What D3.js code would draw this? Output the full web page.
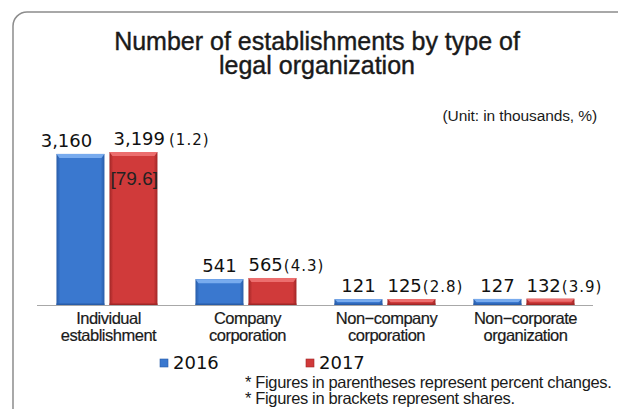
<!DOCTYPE html>
<html>
<head>
<meta charset="utf-8">
<script src="https://cdn.jsdelivr.net/npm/d3@7"></script>
<style>
  body { margin: 0; background: #fff; }
  svg { display: block; }
</style>
</head>
<body>
<svg id="chart" width="618" height="409"></svg>
<script>
const categories = [
  ["Individual", "establishment"],
  ["Company", "corporation"],
  ["Non\u2212company", "corporation"],
  ["Non\u2212corporate", "organization"]
];
const years = ["2016", "2017"];
const values2016 = [3160, 541, 121, 127];
const values2017 = [3199, 565, 125, 132];
const changes = ["(1.2)", "(4.3)", "(2.8)", "(3.9)"];
const shares = ["[79.6]", null, null, null];
const notes = [
  "* Figures in parentheses represent percent changes.",
  "* Figures in brackets represent shares."
];

const svg = d3.select("#chart");
const keys = categories.map((d, i) => i);

// frame
svg.append("rect")
  .attr("x", 13).attr("y", 12)
  .attr("width", 640).attr("height", 420)
  .attr("rx", 14)
  .attr("fill", "none")
  .attr("stroke", "#8c8c8c")
  .attr("stroke-width", 1.5);

// title
svg.append("text")
  .attr("x", 317).attr("y", 50)
  .attr("text-anchor", "middle")
  .style("font", "25px 'Liberation Sans', Arial, sans-serif")
  .attr("fill", "#1a1a1a")
  .attr("stroke", "#1a1a1a")
  .attr("stroke-width", 0.4)
  .selectAll("tspan")
  .data(["Number of establishments by type of", "legal organization"])
  .join("tspan")
  .attr("x", 317)
  .attr("dy", (d, i) => i ? 24 : 0)
  .text(d => d);

svg.append("text")
  .attr("x", 597).attr("y", 121)
  .attr("text-anchor", "end")
  .style("font", "15.5px 'Liberation Sans', Arial, sans-serif")
  .attr("letter-spacing", -0.1)
  .attr("fill", "#1a1a1a")
  .text("(Unit: in thousands, %)");

// scales
const x0 = d3.scaleBand().domain(keys).range([37, 593]).paddingInner(0.28).paddingOuter(0.14);
const x1 = d3.scaleBand().domain(years).range([0, 101]).paddingInner(5 / 53);
const y = d3.scaleLinear().domain([0, 3200]).range([305, 152]);

// gradients
const defs = svg.append("defs");
const palette = {
  "2016": { mid: "#3a78cf", dark: "#285ca8", light: "#78abee" },
  "2017": { mid: "#d03a3a", dark: "#a02626", light: "#ec6e6e" }
};
years.forEach(k => {
  const g = defs.append("linearGradient").attr("id", "g" + k).attr("x1", 0).attr("x2", 1);
  g.append("stop").attr("offset", 0).attr("stop-color", palette[k].dark);
  g.append("stop").attr("offset", 0.08).attr("stop-color", palette[k].mid);
  g.append("stop").attr("offset", 0.92).attr("stop-color", palette[k].mid);
  g.append("stop").attr("offset", 1).attr("stop-color", palette[k].dark);
});

const rows = keys.map(i => ({ i, "2016": values2016[i], "2017": values2017[i] }));

const group = svg.append("g").selectAll("g")
  .data(rows)
  .join("g")
  .attr("transform", d => `translate(${x0(d.i)},0)`);

const bars = group.selectAll("g.bar")
  .data(d => years.map(k => ({ k, v: d[k], i: d.i })))
  .join("g")
  .attr("class", "bar");

bars.append("rect")
  .attr("x", d => x1(d.k))
  .attr("y", d => y(d.v))
  .attr("width", x1.bandwidth())
  .attr("height", d => y(0) - y(d.v))
  .attr("fill", d => `url(#g${d.k})`);

// bevel highlight on top
bars.append("path")
  .attr("d", d => {
    const bx = x1(d.k), by = y(d.v), w = x1.bandwidth();
    const h = Math.min(4, (y(0) - y(d.v)) / 2);
    return `M${bx},${by}H${bx + w}L${bx + w - 3},${by + h}H${bx + 3}Z`;
  })
  .attr("fill", d => palette[d.k].light);

// bottom shade
bars.append("rect")
  .attr("x", d => x1(d.k))
  .attr("y", y(0) - 1.5)
  .attr("width", x1.bandwidth())
  .attr("height", 1.5)
  .attr("fill", d => palette[d.k].dark);

// axis
svg.append("line")
  .attr("x1", 37).attr("x2", 593)
  .attr("y1", 305.5).attr("y2", 305.5)
  .attr("stroke", "#a8a8a8")
  .attr("stroke-width", 1);

// value labels
const valFont = "18px 'DejaVu Sans', sans-serif";
group.append("text")
  .attr("x", d => x1("2016") + x1.bandwidth() / 2 + (d.i === 0 ? -14 : 0))
  .attr("y", d => y(d["2016"]) - 7)
  .attr("text-anchor", "middle")
  .style("font", valFont)
  .attr("fill", "#111")
  .text(d => d3.format(",")(d["2016"]));

const red = group.append("text")
  .attr("x", d => x1("2017") + (d.i === 0 ? 4 : 0))
  .attr("y", d => y(d["2017"]) - 7)
  .style("font", valFont)
  .attr("fill", "#111");
red.append("tspan").text(d => d3.format(",")(d["2017"]));
red.append("tspan")
  .attr("dx", d => d.i === 0 ? 4 : 1)
  .style("font-size", "15px")
  .attr("letter-spacing", 1)
  .text(d => changes[d.i]);

group.filter(d => shares[d.i])
  .append("text")
  .attr("x", x1("2017") + 1)
  .attr("y", 185)
  .style("font", "19px 'Liberation Sans', Arial, sans-serif")
  .attr("fill", "#222")
  .text(d => shares[d.i]);

// category labels, one text per line
group.each(function (d) {
  d3.select(this).selectAll("text.cat")
    .data(categories[d.i])
    .join("text")
    .attr("class", "cat")
    .attr("x", x0.bandwidth() / 2 + 2)
    .attr("y", (t, j) => 324 + j * 17)
    .attr("text-anchor", "middle")
    .style("font", "16.5px 'Liberation Sans', Arial, sans-serif")
    .attr("letter-spacing", -0.5)
    .attr("fill", "#1a1a1a")
    .attr("stroke", "#1a1a1a")
    .attr("stroke-width", 0.2)
    .text(t => t);
});

// legend
const legendX = [160, 306];
const legend = svg.append("g").selectAll("g")
  .data(years)
  .join("g")
  .attr("transform", (d, i) => `translate(${legendX[i]},359)`);
legend.append("rect")
  .attr("width", 8).attr("height", 8)
  .attr("fill", d => palette[d].mid)
  .attr("stroke", d => palette[d].dark)
  .attr("stroke-width", 0.6);
legend.append("text")
  .attr("x", 13).attr("y", 10)
  .style("font", "18px 'DejaVu Sans', sans-serif")
  .attr("fill", "#111")
  .text(d => d);

// notes
svg.append("g").selectAll("text")
  .data(notes)
  .join("text")
  .attr("x", 245)
  .attr("y", (d, i) => 388 + i * 16)
  .style("font", "16.5px 'Liberation Sans', Arial, sans-serif")
  .attr("letter-spacing", -0.35)
  .attr("fill", "#1a1a1a")
  .text(d => d);
</script>
</body>
</html>
